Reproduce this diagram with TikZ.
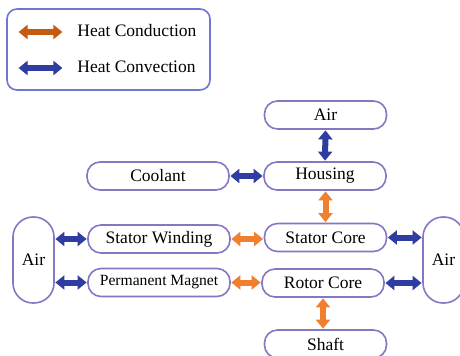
\documentclass[tikz,border=0pt]{standalone}
\usepackage{fontspec}
\setmainfont{Liberation Serif}
\usetikzlibrary{arrows.meta}
\definecolor{condL}{HTML}{C55A11}
\definecolor{cond}{HTML}{F07F2F}
\definecolor{conv}{HTML}{2E3D9F}
\definecolor{edge}{HTML}{8478C4}
\definecolor{legedge}{HTML}{6E78D0}
\tikzset{
  part/.style={draw=edge, line width=0.8pt, rounded corners=6.5pt, fill=white,
    minimum width=61pt, minimum height=14pt, inner sep=0pt,
    font=\fontsize{8.75}{10}\selectfont},
  widepart/.style={part, minimum width=71pt},
  airside/.style={part, minimum width=20.5pt, minimum height=43pt, rounded corners=10pt},
  twoway/.style={line width=3pt, {Triangle[length=4.5pt,width=7pt]}-{Triangle[length=4.5pt,width=7pt]}, shorten <=0.3pt, shorten >=0.3pt},
  conduct/.style={twoway, draw=cond},
  convect/.style={twoway, draw=conv},
  legtext/.style={anchor=west, inner sep=0pt, font=\fontsize{8.75}{10}\selectfont}
}
\begin{document}
\begin{tikzpicture}[x=0.5pt,y=-0.5pt]
\clip (0,0) rectangle (460,355);
\fill[white] (0,0) rectangle (460,355);
% legend
\node[draw=legedge, line width=0.8pt, rounded corners=5pt, minimum width=101.5pt, minimum height=40.5pt, inner sep=0pt] (legend) at (108.5,49.5) {};
\coordinate (lc1) at (18,32);
\coordinate (lc2) at (63,32);
\coordinate (lv1) at (18,68);
\coordinate (lv2) at (63,68);
\draw[twoway, draw=condL] (lc1) -- (lc2);
\draw[convect] (lv1) -- (lv2);
\node[legtext] (ltc) at (77,31) {Heat Conduction};
\node[legtext] (ltv) at (77,67) {Heat Convection};
% nodes
\node[part] (airtop) at (325.5,115) {Air};
\node[part] (housing) at (325,176) {Housing};
\node[widepart] (coolant) at (158,176) {Coolant};
\node[widepart] (sw) at (159,239) {Stator Winding};
\node[part] (sc) at (325.5,237.5) {Stator Core};
\node[widepart, font=\fontsize{7.8}{9}\selectfont] (pm) at (159,282.5) {Permanent Magnet};
\node[part] (rc) at (323,283) {Rotor Core};
\node[part] (shaft) at (325.5,344) {Shaft};
\node[airside] (airL) at (33.5,260) {Air};
\node[airside] (airR) at (443.5,260) {Air};
% connectors
\draw[convect] (airtop.south) -- (housing.north);
\draw[convect] (coolant.east) -- (housing.west);
\draw[conduct] (housing.south -| sc.north) -- (sc.north);
\draw[convect] (sw.west -| airL.east) -- (sw.west);
\draw[convect] (pm.west -| airL.east) -- (pm.west);
\draw[conduct] (sw.east) -- (sw.east -| sc.west);
\draw[conduct] (pm.east) -- (pm.east -| rc.west);
\draw[convect] (sc.east) -- (sc.east -| airR.west);
\draw[convect] (rc.east) -- (rc.east -| airR.west);
\draw[conduct] (rc.south) -- (rc.south |- shaft.north);
\end{tikzpicture}
\end{document}
